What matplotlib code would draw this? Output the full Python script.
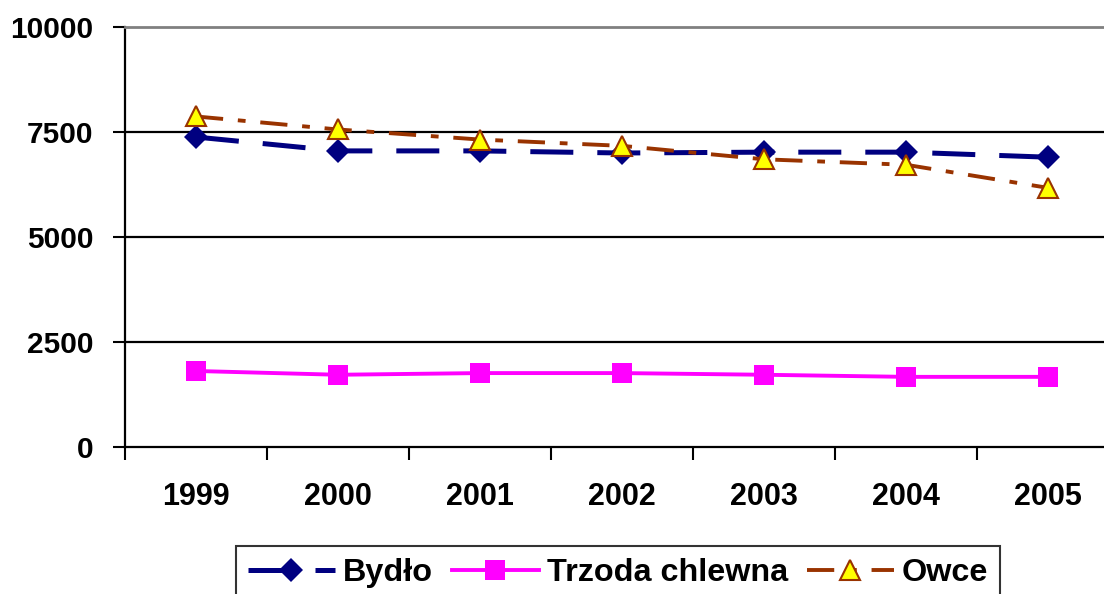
import matplotlib
matplotlib.use("Agg")
import matplotlib.pyplot as plt
import numpy as np

years = ["1999", "2000", "2001", "2002", "2003", "2004", "2005"]
bydlo = [7380, 7050, 7050, 7000, 7020, 7020, 6900]
trzoda = [1810, 1720, 1760, 1760, 1720, 1670, 1670]
owce = [7870, 7560, 7320, 7170, 6850, 6720, 6170]
y_ticks = [0, 2500, 5000, 7500, 10000]
series_names = ["Bydło", "Trzoda chlewna", "Owce"]

plt.rcParams['font.family'] = ['Liberation Sans', 'DejaVu Sans']
plt.rcParams['font.weight'] = 'bold'
FS_Y = 21.5
FS_X = 22
FS_L = 23.3

W, H = 1104, 594
fig = plt.figure(figsize=(W / 100, H / 100), dpi=100)
left, right, top, bottom = 125, 1119, 27, 447
ax = fig.add_axes([left / W, 1 - bottom / H, (right - left) / W, (bottom - top) / H])

x = np.arange(len(years))

l1, = ax.plot(x, bydlo, color="#000080", lw=3.6, dashes=(8.6, 4.8),
              marker="D", ms=12.5, mfc="#000080", mec="#000080", mew=0, zorder=5,
              label=series_names[0])
l2, = ax.plot(x, trzoda, color="#FF00FF", lw=2.8, ls="-",
              marker="s", ms=14, mfc="#FF00FF", mec="#FF00FF", mew=0, zorder=5,
              label=series_names[1])
l3, = ax.plot(x, owce, color="#993300", lw=2.8, dashes=(7, 3.8, 2, 3.8),
              marker="^", ms=15, mfc="#FFFF00", mec="#993300", mew=1.5, zorder=6,
              label=series_names[2])

ax.set_xlim(-0.5, len(years) - 0.5)
ax.set_ylim(0, 10000)

for yv in y_ticks[1:-1]:
    ax.axhline(yv, color="black", lw=1.6, zorder=1)

ax.set_yticks(y_ticks)
ax.set_yticklabels([str(v) for v in y_ticks], fontsize=FS_Y, fontweight="bold")
ax.tick_params(axis="y", direction="out", length=8.6, width=1.5, pad=14)

ax.set_xticks(np.arange(len(years) + 1) - 0.5)
ax.set_xticklabels([])
ax.tick_params(axis="x", which="major", direction="out", length=9, width=1.5)
ax.set_xticks(x, minor=True)
ax.set_xticklabels(years, minor=True, fontsize=FS_X, fontweight="bold")
ax.tick_params(axis="x", which="minor", length=0, pad=25)

for s in ["left", "bottom"]:
    ax.spines[s].set_linewidth(1.6)
    ax.spines[s].set_color("black")
ax.spines["top"].set_color("#808080")
ax.spines["top"].set_linewidth(2)
ax.spines["right"].set_visible(False)

leg = fig.legend(handles=[l1, l2, l3], loc="upper left",
                 bbox_to_anchor=(236 / W, 1 - 546 / H), ncol=3,
                 prop={"size": FS_L, "weight": "bold"}, frameon=True, fancybox=False,
                 edgecolor="black", handlelength=2.69, handletextpad=0.25,
                 columnspacing=0.58, borderpad=0.37, borderaxespad=0)
leg.get_frame().set_linewidth(1.5)

fig.savefig("out.png", dpi=100)
